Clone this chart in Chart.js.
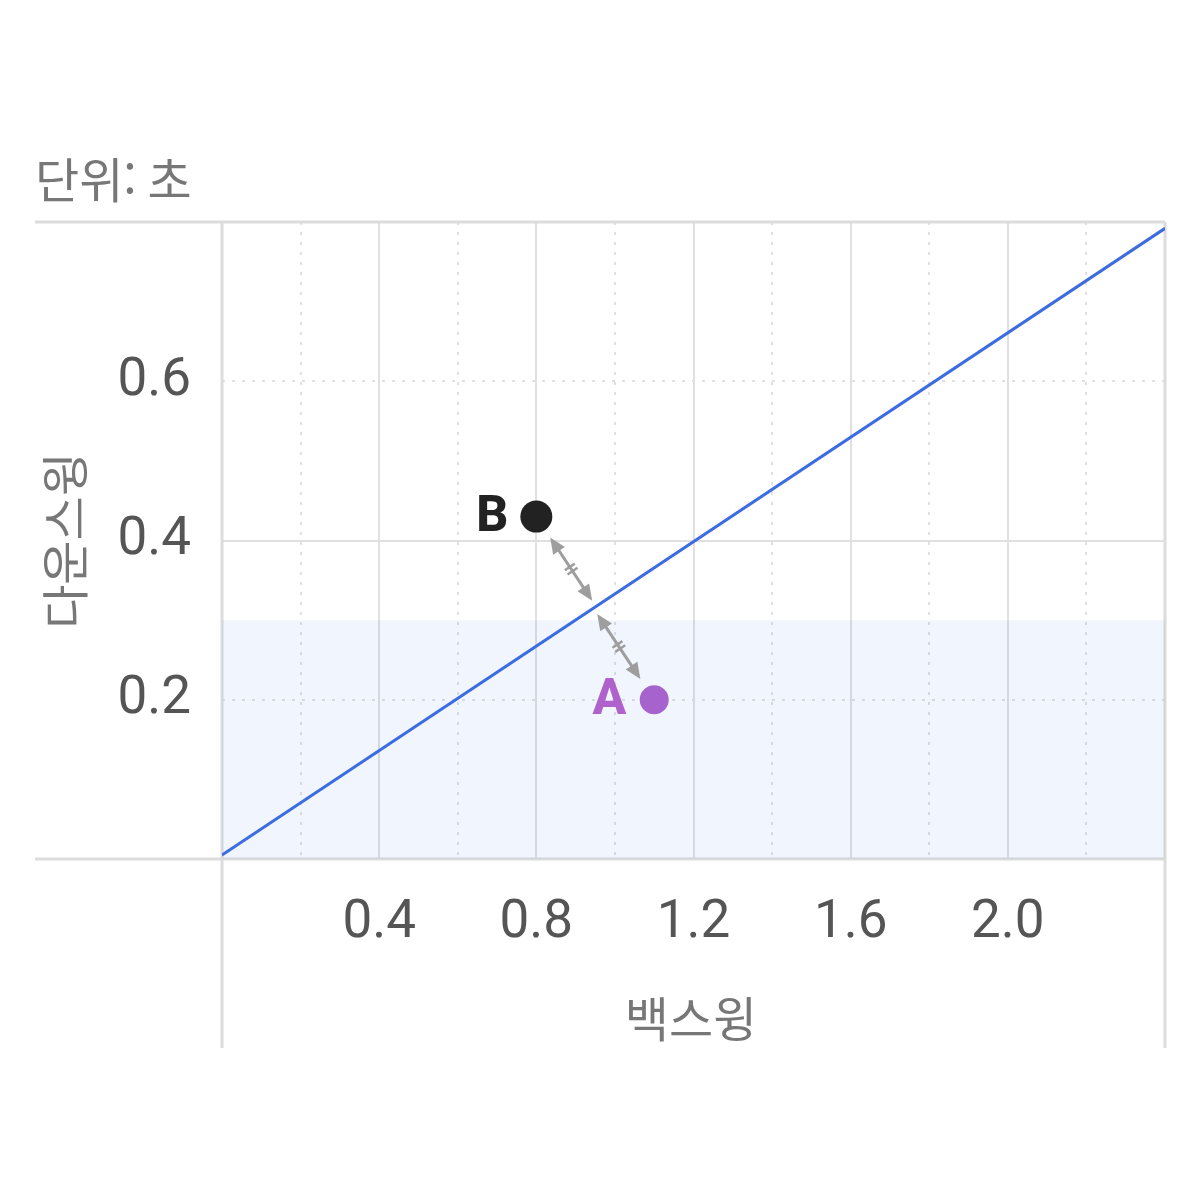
<!DOCTYPE html>
<html lang="ko">
<head>
<meta charset="utf-8">
<title>백스윙 / 다운스윙</title>
<script src="https://cdn.jsdelivr.net/npm/chart.js@4.4.1/dist/chart.umd.min.js"></script>
<style>
  html, body { margin: 0; padding: 0; background: #fff; }
  canvas { display: block; }
</style>
</head>
<body>
<canvas id="chart" width="1200" height="1200"></canvas>
<script>
// data
const pointLabels = ["B", "A"];
const backswing = [0.8, 1.1];
const downswing = [0.43, 0.2];
const pointColors = ["#222222", "#b062cc"];

const fitX = [0, 2.4];
const fitY = [0.005, 0.792];

const bandX = [0, 2.4];
const bandTop = [0.3, 0.3];

const xTicks = [0, 0.2, 0.4, 0.6, 0.8, 1.0, 1.2, 1.4, 1.6, 1.8, 2.0, 2.2, 2.4];
const yTicks = [0, 0.2, 0.4, 0.6, 0.8];
const xTickLabels = ["0.4", "0.8", "1.2", "1.6", "2.0"];
const yTickLabels = ["0.2", "0.4", "0.6"];

const unitText = "단위: 초";
const xTitle = "백스윙";
const yTitle = "다운스윙";

const NUM_FONT = "Roboto, 'Noto Sans CJK KR', sans-serif";
const KR_FONT = "'Noto Sans CJK KR', 'Noto Sans', sans-serif";
const FRAME = "#dcdcdc";

const isMajor = (v) => Math.abs(v / 0.4 - Math.round(v / 0.4)) < 1e-6;
const isEdge = (v, lo, hi) => Math.abs(v - lo) < 1e-6 || Math.abs(v - hi) < 1e-6;
const fmt = (v) => v.toFixed(1);

// frame lines that run past the plot area, plus the texts around it
const framePlugin = {
  id: "frame",
  beforeDatasetsDraw(chart) {
    const { ctx, chartArea: a } = chart;
    ctx.save();
    ctx.strokeStyle = FRAME;
    ctx.lineWidth = 3;
    ctx.beginPath();
    ctx.moveTo(35, a.top); ctx.lineTo(a.right, a.top);
    ctx.moveTo(35, a.bottom); ctx.lineTo(a.right, a.bottom);
    ctx.moveTo(a.left, a.top); ctx.lineTo(a.left, 1048);
    ctx.moveTo(a.right, a.top); ctx.lineTo(a.right, 1048);
    ctx.stroke();
    ctx.restore();
  },
  afterDraw(chart) {
    const { ctx, chartArea: a } = chart;
    ctx.save();
    ctx.fillStyle = "#777";
    ctx.font = "48px " + KR_FONT;
    ctx.textAlign = "left";
    ctx.textBaseline = "middle";
    ctx.fillText(unitText, 35, 180);

    ctx.textAlign = "center";
    ctx.fillText(xTitle, 691, 1019);

    ctx.translate(65, (a.top + a.bottom) / 2);
    ctx.rotate(-Math.PI / 2);
    ctx.fillText(yTitle, 0, 0);
    ctx.restore();
  }
};

// double arrows from each point to the fitted line, and the A/B letters
const arrowPlugin = {
  id: "arrows",
  afterDatasetsDraw(chart) {
    const { ctx } = chart;
    const line = chart.getDatasetMeta(1).data;
    const pts = chart.getDatasetMeta(2).data;
    const x0 = line[0].x, y0 = line[0].y;
    let dx = line[1].x - x0, dy = line[1].y - y0;
    const len = Math.hypot(dx, dy);
    dx /= len; dy /= len;

    ctx.save();
    ctx.strokeStyle = "#9e9e9e";
    ctx.fillStyle = "#9e9e9e";
    ctx.lineWidth = 3;

    const head = (x, y, ux, uy) => {
      ctx.beginPath();
      ctx.moveTo(x, y);
      ctx.lineTo(x - ux * 16 - uy * 7, y - uy * 16 + ux * 7);
      ctx.lineTo(x - ux * 16 + uy * 7, y - uy * 16 - ux * 7);
      ctx.closePath();
      ctx.fill();
    };

    pts.forEach((p) => {
      const t = (p.x - x0) * dx + (p.y - y0) * dy;
      const fx = x0 + dx * t, fy = y0 + dy * t;
      let ux = fx - p.x, uy = fy - p.y;
      const d = Math.hypot(ux, uy);
      ux /= d; uy /= d;
      const sx = p.x + ux * 25, sy = p.y + uy * 25;
      const ex = fx - ux * 7, ey = fy - uy * 7;
      ctx.beginPath();
      ctx.moveTo(sx + ux * 10, sy + uy * 10);
      ctx.lineTo(ex - ux * 10, ey - uy * 10);
      ctx.stroke();
      head(ex, ey, ux, uy);
      head(sx, sy, -ux, -uy);
      const mx = (sx + ex) / 2, my = (sy + ey) / 2;
      ctx.lineWidth = 2.5;
      [-2.5, 2.5].forEach((o) => {
        ctx.beginPath();
        ctx.moveTo(mx + ux * o - uy * 6, my + uy * o + ux * 6);
        ctx.lineTo(mx + ux * o + uy * 6, my + uy * o - ux * 6);
        ctx.stroke();
      });
      ctx.lineWidth = 3;
    });

    ctx.font = "800 50px " + NUM_FONT;
    ctx.textAlign = "right";
    ctx.textBaseline = "middle";
    pts.forEach((p, i) => {
      ctx.fillStyle = pointColors[i];
      ctx.fillText(pointLabels[i], p.x - 28, p.y + 2);
    });
    ctx.restore();
  }
};

const gridColor = (lo, hi) => (c) =>
  c.tick && isEdge(c.tick.value, lo, hi) ? "rgba(0,0,0,0)" : "#e0e0e0";
const gridDash = (c) => (c.tick && !isMajor(c.tick.value) ? [3, 7] : []);

new Chart(document.getElementById("chart"), {
  type: "scatter",
  data: {
    datasets: [
      {
        type: "line",
        data: bandX.map((x, i) => ({ x, y: bandTop[i] })),
        borderWidth: 0,
        borderColor: "rgba(0,0,0,0)",
        backgroundColor: "rgba(60,120,240,0.075)",
        fill: "origin",
        pointRadius: 0
      },
      {
        type: "line",
        data: fitX.map((x, i) => ({ x, y: fitY[i] })),
        borderColor: "#3c6ce0",
        borderWidth: 3,
        fill: false,
        pointRadius: 0
      },
      {
        data: backswing.map((x, i) => ({ x, y: downswing[i] })),
        pointRadius: 16,
        pointHoverRadius: 16,
        pointBackgroundColor: pointColors,
        pointBorderColor: ["#222222", "#ffffff"],
        pointBorderWidth: [0, 3]
      }
    ]
  },
  options: {
    responsive: false,
    animation: false,
    devicePixelRatio: 1,
    layout: { padding: { top: 222, right: 35, left: 0, bottom: 0 } },
    plugins: { legend: { display: false }, tooltip: { enabled: false } },
    scales: {
      x: {
        type: "linear",
        min: 0,
        max: 2.4,
        afterFit: (s) => { s.height = 341; },
        afterBuildTicks: (s) => { s.ticks = xTicks.map((value) => ({ value })); },
        grid: { drawTicks: false, lineWidth: 2, color: gridColor(0, 2.4) },
        border: { display: false, dash: gridDash },
        ticks: {
          padding: 33,
          color: "#555",
          font: { family: NUM_FONT, size: 53 },
          autoSkip: false,
          maxRotation: 0,
          callback: (v) => (xTickLabels.includes(fmt(v)) ? fmt(v) : "")
        }
      },
      y: {
        type: "linear",
        min: 0,
        max: 0.8,
        afterFit: (s) => { s.width = 222; },
        afterBuildTicks: (s) => { s.ticks = yTicks.map((value) => ({ value })); },
        grid: { drawTicks: false, lineWidth: 2, color: gridColor(0, 0.8) },
        border: { display: false, dash: gridDash },
        ticks: {
          padding: 31,
          color: "#555",
          font: { family: NUM_FONT, size: 53 },
          autoSkip: false,
          callback: (v) => (yTickLabels.includes(fmt(v)) ? fmt(v) : "")
        }
      }
    }
  },
  plugins: [framePlugin, arrowPlugin]
});
</script>
</body>
</html>
